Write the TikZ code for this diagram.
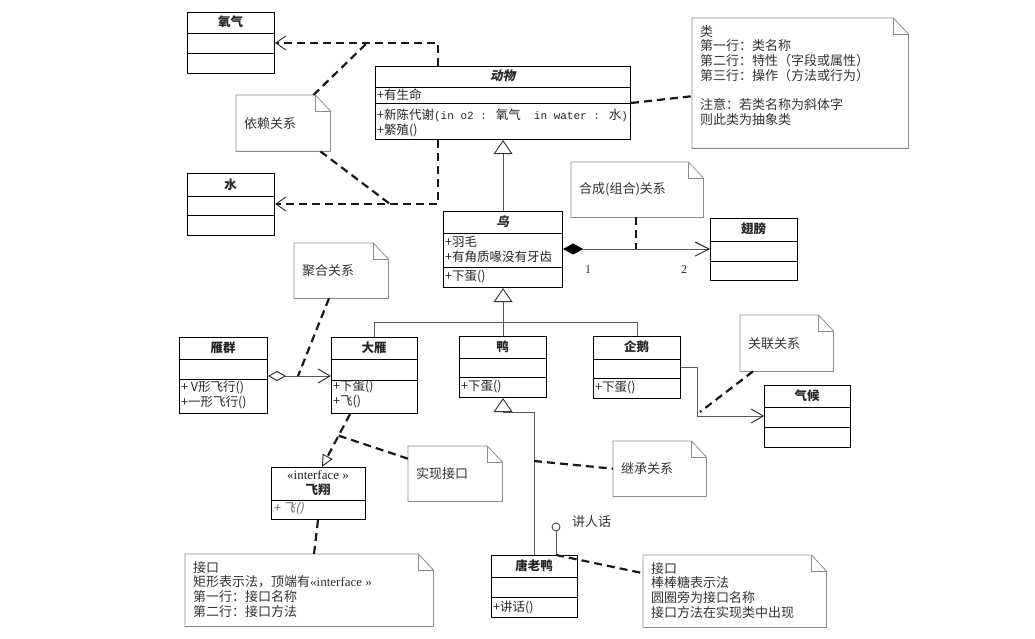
\documentclass[tikz,border=0pt]{standalone}
\usepackage{fontspec}
\setmainfont{Noto Sans CJK SC}[AutoFakeSlant=0.2]
\newfontfamily\slantf{Noto Sans CJK SC}[FakeSlant=0.22]
\newfontfamily\monof{Liberation Mono}
\newfontfamily\serf{Liberation Serif}
\usetikzlibrary{arrows.meta,calc}

\tikzset{
 clsbox/.style={draw=black, line width=1.1pt, inner sep=0pt},
 clsline/.style={draw=black, line width=0.9pt},
 ttl/.style={font=\bfseries\fontsize{12.5}{14}\selectfont, inner sep=0pt, text=black!85},
 ittl/.style={font=\slantf\bfseries\fontsize{12.5}{14}\selectfont, inner sep=0pt, text=black!85},
 mem/.style={font=\fontsize{12.5}{14}\selectfont, inner sep=0pt, anchor=west, text=black!85},
 notebd/.style={draw=black!45, line width=0.8pt},
 notetxt/.style={font=\fontsize{13}{14.7}\selectfont, text=black!80, inner sep=0pt},
 dsh/.style={line width=2.2pt, dash pattern=on 8pt off 5pt, black!90},
 sol/.style={line width=0.8pt, black!65},
 gentip/.style={-{Triangle[open, length=14pt, width=19pt, line width=0.9pt, color=black!80]}},
 barb/.style={-{Straight Barb[length=10pt, width=14pt, line width=0.9pt, color=black!85]}},
}

\newcommand\umlclass[7]{%
 \node[clsbox, minimum width={#4-#2}, minimum height={#5-#3}, anchor=north west] (#1) at (#2,#3) {};
 \draw[clsline] (#1.west |- 0,#6) -- (#1.east |- 0,#6);
 \draw[clsline] (#1.west |- 0,#7) -- (#1.east |- 0,#7);
}
\newcommand\umlnote[7]{%
 \node[notetxt, minimum width={#4-#2}, minimum height={#5-#3}, anchor=north west] (#1) at (#2,#3)
   {\parbox[c][\dimexpr#5pt-#3pt-14pt\relax][#6]{\dimexpr#4pt-#2pt-16pt\relax}{\raggedright #7}};
 \draw[notebd] (#1.north west) -- ([xshift=-15pt]#1.north east) -- ([yshift=-16pt]#1.north east) -- (#1.south east) -- (#1.south west) -- cycle;
 \draw[notebd] ([xshift=-15pt]#1.north east) |- ([yshift=-16pt]#1.north east);
}

\begin{document}
\begin{tikzpicture}[x=1pt,y=-1pt]
\useasboundingbox (0,0) rectangle (1035,639);
\fill[white] (0,0) rectangle (1035,639);

% ---------- classes ----------
\umlclass{yq}{187}{12}{274}{73}{33}{53}
\node[ttl] (yq-n) at (230.5,22) {氧气};

\umlclass{shui}{187}{173}{274}{235}{196}{215}
\node[ttl] (shui-n) at (230.5,185) {水};

\umlclass{dw}{375}{66}{630}{139}{87}{103}
\node[ittl] (dw-n) at (502.5,76) {动物};
\node[mem] (dw-a1) at (377,95) {+有生命};
\node[mem] (dw-m1) at (377,115) {+新陈代谢{\monof\fontsize{11}{14}\selectfont(in o2 : }氧气{\monof\fontsize{11}{14}\selectfont~~in water : }水{\monof\fontsize{11}{14}\selectfont)}};
\node[mem] (dw-m2) at (377,130) {+繁殖()};

\umlclass{niao}{443}{211}{562}{287}{233}{267}
\node[ittl] (niao-n) at (502.5,222) {鸟};
\node[mem] (niao-a1) at (445,242) {+羽毛};
\node[mem] (niao-a2) at (445,257) {+有角质喙没有牙齿};
\node[mem] (niao-m1) at (445,277) {+下蛋()};

\umlclass{cb}{710}{218}{797}{280}{241}{261}
\node[ttl] (cb-n) at (753.5,229) {翅膀};

\umlclass{yqun}{179}{337}{267}{413}{359}{379}
\node[ttl] (yqun-n) at (223,348) {雁群};
\node[mem] (yqun-m1) at (181,387) {+ V形飞行()};
\node[mem] (yqun-m2) at (181,402) {+一形飞行()};

\umlclass{dy}{331}{337}{417}{413}{359}{380}
\node[ttl] (dy-n) at (374,348) {大雁};
\node[mem] (dy-m1) at (333,387) {+下蛋()};
\node[mem] (dy-m2) at (333,402) {+飞()};

\umlclass{ya}{459}{336}{546}{397}{358}{377}
\node[ttl] (ya-n) at (502.5,347) {鸭};
\node[mem] (ya-m1) at (461,387) {+下蛋()};

\umlclass{qe}{593}{336}{680}{398}{359}{378}
\node[ttl] (qe-n) at (636.5,347) {企鹅};
\node[mem] (qe-m1) at (595,388) {+下蛋()};

\umlclass{qh}{764}{385}{850}{447}{407}{427}
\node[ttl] (qh-n) at (807,396) {气候};

\umlclass{tly}{491}{555}{577}{617}{577}{597}
\node[ttl] (tly-n) at (534,566) {唐老鸭};
\node[mem] (tly-m1) at (493,607) {+讲话()};

\umlclass{fx}{271}{467}{365}{519}{500}{500}
\node[ttl, font=\serf\fontsize{13}{14}\selectfont] (fx-s) at (318,475) {«interface »};
\node[ttl] (fx-n) at (318,490) {飞翔};
\node[mem, font=\slantf\fontsize{12.5}{14}\selectfont, text=black!60] (fx-m1) at (273,509) {+ 飞()};

% ---------- notes ----------
\umlnote{ncls}{692}{18}{908}{148}{t}{类\\第一行：类名称\\第二行：特性（字段或属性）\\第三行：操作（方法或行为）\\[14.7pt]注意：若类名称为斜体字\\则此类为抽象类}
\umlnote{ndep}{236}{95}{330}{151}{c}{依赖关系}
\umlnote{ncomp}{571}{162}{703}{217}{c}{合成(组合)关系}
\umlnote{nagg}{294}{243}{388}{298}{c}{聚合关系}
\umlnote{nassoc}{740}{315}{833}{371}{c}{关联关系}
\umlnote{ninh}{613}{441}{706}{496}{c}{继承关系}
\umlnote{nreal}{408}{446}{502}{501}{c}{实现接口}
\umlnote{nif}{185}{554}{433}{626}{t}{接口\\矩形表示法，顶端有{\serf«interface »}\\第一行：接口名称\\第二行：接口方法}
\umlnote{nlol}{643}{555}{826}{627}{t}{接口\\棒棒糖表示法\\圆圈旁为接口名称\\接口方法在实现类中出现}

% ---------- dependency ----------
\coordinate (d1) at (438,43);
\coordinate (d2) at (438,204);
\draw[dsh, barb] (dw.north -| d1) -- (d1) -- (yq.east |- d1);
\draw[dsh, barb] (dw.south -| d2) -- (d2) -- (shui.east |- d2);
\draw[dsh] ([xshift=-17pt]ndep.north east) -- (367,43);
\draw[dsh] ([xshift=-10pt]ndep.south east) -- (390,204);

% class note
\draw[dsh] (dw.east |- 0,103) -- ([yshift=-13pt]ncls.west);

% ---------- generalization ----------
\draw[sol, gentip] (niao.north) -- (dw.south);
\draw[sol] (dy.north) |- (qe.north |- 0,322) -- (qe.north);
\draw[sol, gentip] (ya.north) -- (niao.south);
\coordinate (t0) at (534,412);
\draw[sol, gentip] (tly.north -| t0) -- (t0) -- (ya.south |- t0) -- (ya.south);
\coordinate (t1) at (534,461);
\draw[dsh] (t1) -- (ninh.west);

% ---------- composition ----------
\coordinate (c0) at (0,249);
\draw[sol, {Diamond[length=20pt, width=11pt, color=black]}-{Straight Barb[length=14pt, width=14pt, line width=0.9pt, color=black!85]}] (niao.east |- c0) -- (cb.west |- c0);
\draw[dsh] (ncomp.south -| 636,0) -- (636,249);
\node[font=\serf\fontsize{12}{14}\selectfont, text=black!80, inner sep=0pt] (m1) at (588,270) {1};
\node[font=\serf\fontsize{12}{14}\selectfont, text=black!80, inner sep=0pt] (m2) at (684,270) {2};

% ---------- aggregation ----------
\coordinate (g0) at (0,376);
\draw[sol, {Diamond[open, length=18pt, width=10pt, line width=0.9pt, color=black!85]}-{Straight Barb[length=12pt, width=14pt, line width=0.9pt, color=black!85]}] (yqun.east |- g0) -- (dy.west |- g0);
\draw[dsh] ([xshift=35pt]nagg.south west) -- (298,376);

% ---------- association ----------
\coordinate (a1) at (697,416);
\draw[sol, -{Straight Barb[length=12pt, width=14pt, line width=0.9pt, color=black!85]}] (qe.east |- 0,367) -| (a1) -- (qh.west |- a1);
\draw[dsh] ([xshift=13pt]nassoc.south west) -- (700,412);

% ---------- realization ----------
\coordinate (r1) at (dy.south -| 350,0);
\coordinate (r2) at (fx.north -| 322,0);
\draw[dsh, -{Triangle[open, length=12pt, width=11pt, line width=0.9pt, color=black!85]}] (r1) -- (r2);
\draw[dsh] ([yshift=15pt]nreal.west) -- ($(r1)!0.407!(r2)$);
\draw[dsh] (fx.south -| 318,0) -- (nif.north -| 314,0);

% ---------- lollipop ----------
\node[circle, draw=black!75, line width=0.8pt, minimum size=8pt, inner sep=0pt] (lol) at (556,527) {};
\draw[sol] (lol.south) -- (lol.south |- tly.north);
\node[notetxt, anchor=west] (lol-n) at (572,522) {讲人话};
\draw[dsh] (lol.south |- tly.north) -- ([yshift=18pt]nlol.west);
\end{tikzpicture}
\end{document}
